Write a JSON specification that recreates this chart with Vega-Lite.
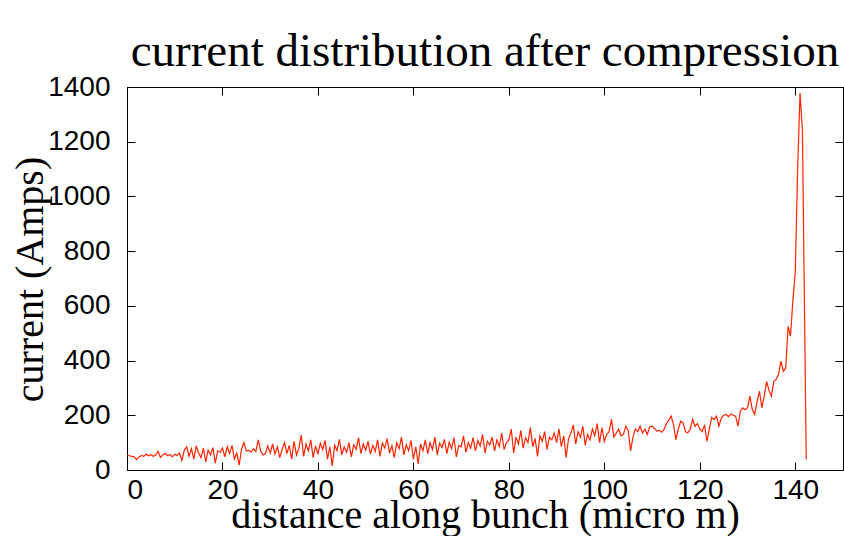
{
 "$schema": "https://vega.github.io/schema/vega-lite/v6.json",
 "width": 716,
 "height": 383,
 "autosize": "none",
 "padding": {"left": 127, "top": 87, "right": 1, "bottom": 66},
 "background": "white",
 "title": {"text": "current distribution after compression", "font": "Liberation Serif", "fontSize": 47, "fontWeight": "normal", "color": "black", "anchor": "middle", "offset": -3},
 "config": {
  "view": {"stroke": "black", "strokeWidth": 1},
  "axis": {"grid": false, "domainColor": "black", "domainWidth": 1, "tickColor": "black", "tickWidth": 1, "tickSize": -8, "labelFont": "Liberation Sans", "labelFontSize": 28, "labelColor": "black", "titleFont": "Liberation Serif", "titleFontSize": 40, "titleFontWeight": "normal", "titleColor": "black", "format": "d"}
 },
 "data": {"values": [
{"d":0,"c":55},{"d":0.5,"c":52},{"d":1,"c":50},{"d":1.5,"c":48},{"d":2,"c":38},{"d":2.5,"c":47},{"d":3,"c":53},{"d":3.5,"c":50},{"d":4,"c":58},{"d":4.5,"c":52},{"d":5,"c":56},{"d":5.5,"c":50},{"d":6,"c":54},{"d":6.5,"c":68},{"d":7,"c":46},{"d":7.5,"c":55},{"d":8,"c":60},{"d":8.5,"c":52},{"d":9,"c":57},{"d":9.5,"c":48},
{"d":10,"c":58},{"d":10.5,"c":54},{"d":11,"c":62},{"d":11.5,"c":35},{"d":12,"c":72},{"d":12.5,"c":85},{"d":13,"c":50},{"d":13.5,"c":78},{"d":14,"c":40},{"d":14.5,"c":88},{"d":15,"c":62},{"d":15.5,"c":45},{"d":16,"c":80},{"d":16.5,"c":30},{"d":17,"c":72},{"d":17.5,"c":55},{"d":18,"c":82},{"d":18.5,"c":25},{"d":19,"c":70},{"d":19.5,"c":65},
{"d":20,"c":80},{"d":20.5,"c":48},{"d":21,"c":85},{"d":21.5,"c":60},{"d":22,"c":90},{"d":22.5,"c":40},{"d":23,"c":62},{"d":23.5,"c":18},{"d":24,"c":78},{"d":24.5,"c":100},{"d":25,"c":70},{"d":25.5,"c":72},{"d":26,"c":65},{"d":26.5,"c":78},{"d":27,"c":68},{"d":27.5,"c":110},{"d":28,"c":70},{"d":28.5,"c":55},{"d":29,"c":60},{"d":29.5,"c":88},
{"d":30,"c":62},{"d":30.5,"c":95},{"d":31,"c":58},{"d":31.5,"c":85},{"d":32,"c":45},{"d":32.5,"c":75},{"d":33,"c":100},{"d":33.5,"c":60},{"d":34,"c":90},{"d":34.5,"c":40},{"d":35,"c":105},{"d":35.5,"c":55},{"d":36,"c":78},{"d":36.5,"c":128},{"d":37,"c":50},{"d":37.5,"c":95},{"d":38,"c":70},{"d":38.5,"c":110},{"d":39,"c":45},{"d":39.5,"c":88},
{"d":40,"c":60},{"d":40.5,"c":98},{"d":41,"c":75},{"d":41.5,"c":108},{"d":42,"c":40},{"d":42.5,"c":85},{"d":43,"c":15},{"d":43.5,"c":90},{"d":44,"c":70},{"d":44.5,"c":112},{"d":45,"c":55},{"d":45.5,"c":85},{"d":46,"c":65},{"d":46.5,"c":100},{"d":47,"c":48},{"d":47.5,"c":92},{"d":48,"c":75},{"d":48.5,"c":118},{"d":49,"c":60},{"d":49.5,"c":95},
{"d":50,"c":72},{"d":50.5,"c":105},{"d":51,"c":58},{"d":51.5,"c":90},{"d":52,"c":68},{"d":52.5,"c":110},{"d":53,"c":50},{"d":53.5,"c":98},{"d":54,"c":80},{"d":54.5,"c":115},{"d":55,"c":62},{"d":55.5,"c":88},{"d":56,"c":45},{"d":56.5,"c":100},{"d":57,"c":78},{"d":57.5,"c":120},{"d":58,"c":55},{"d":58.5,"c":92},{"d":59,"c":70},{"d":59.5,"c":108},
{"d":60,"c":40},{"d":60.5,"c":85},{"d":61,"c":22},{"d":61.5,"c":95},{"d":62,"c":70},{"d":62.5,"c":110},{"d":63,"c":60},{"d":63.5,"c":100},{"d":64,"c":75},{"d":64.5,"c":120},{"d":65,"c":55},{"d":65.5,"c":98},{"d":66,"c":82},{"d":66.5,"c":112},{"d":67,"c":60},{"d":67.5,"c":102},{"d":68,"c":78},{"d":68.5,"c":118},{"d":69,"c":48},{"d":69.5,"c":90},
{"d":70,"c":85},{"d":70.5,"c":125},{"d":71,"c":65},{"d":71.5,"c":100},{"d":72,"c":80},{"d":72.5,"c":118},{"d":73,"c":70},{"d":73.5,"c":108},{"d":74,"c":88},{"d":74.5,"c":130},{"d":75,"c":62},{"d":75.5,"c":105},{"d":76,"c":92},{"d":76.5,"c":120},{"d":77,"c":70},{"d":77.5,"c":110},{"d":78,"c":85},{"d":78.5,"c":135},{"d":79,"c":75},{"d":79.5,"c":100},
{"d":80,"c":110},{"d":80.5,"c":150},{"d":81,"c":62},{"d":81.5,"c":120},{"d":82,"c":95},{"d":82.5,"c":145},{"d":83,"c":80},{"d":83.5,"c":118},{"d":84,"c":100},{"d":84.5,"c":155},{"d":85,"c":85},{"d":85.5,"c":115},{"d":86,"c":50},{"d":86.5,"c":125},{"d":87,"c":105},{"d":87.5,"c":140},{"d":88,"c":75},{"d":88.5,"c":120},{"d":89,"c":110},{"d":89.5,"c":135},
{"d":90,"c":100},{"d":90.5,"c":150},{"d":91,"c":85},{"d":91.5,"c":125},{"d":92,"c":45},{"d":92.5,"c":115},{"d":93,"c":135},{"d":93.5,"c":165},{"d":94,"c":95},{"d":94.5,"c":140},{"d":95,"c":120},{"d":95.5,"c":160},{"d":96,"c":90},{"d":96.5,"c":130},{"d":97,"c":110},{"d":97.5,"c":150},{"d":98,"c":125},{"d":98.5,"c":170},{"d":99,"c":100},{"d":99.5,"c":155},
{"d":100,"c":105},{"d":100.5,"c":130},{"d":101,"c":140},{"d":101.5,"c":185},{"d":102,"c":120},{"d":102.5,"c":135},{"d":103,"c":150},{"d":103.5,"c":125},{"d":104,"c":130},{"d":104.5,"c":160},{"d":105,"c":145},{"d":105.5,"c":70},{"d":106,"c":120},{"d":106.5,"c":150},{"d":107,"c":140},{"d":107.5,"c":160},{"d":108,"c":135},{"d":108.5,"c":150},{"d":109,"c":130},{"d":109.5,"c":158},
{"d":110,"c":160},{"d":110.5,"c":152},{"d":111,"c":142},{"d":111.5,"c":145},{"d":112,"c":138},{"d":112.5,"c":148},{"d":113,"c":170},{"d":113.5,"c":182},{"d":114,"c":197},{"d":114.5,"c":165},{"d":115,"c":111},{"d":115.5,"c":150},{"d":116,"c":178},{"d":116.5,"c":172},{"d":117,"c":140},{"d":117.5,"c":136},{"d":118,"c":150},{"d":118.5,"c":185},{"d":119,"c":160},{"d":119.5,"c":170},
{"d":120,"c":150},{"d":120.5,"c":140},{"d":121,"c":165},{"d":121.5,"c":105},{"d":122,"c":150},{"d":122.5,"c":192},{"d":123,"c":185},{"d":123.5,"c":197},{"d":124,"c":160},{"d":124.5,"c":190},{"d":125,"c":200},{"d":125.5,"c":203},{"d":126,"c":195},{"d":126.5,"c":205},{"d":127,"c":200},{"d":127.5,"c":197},{"d":128,"c":160},{"d":128.5,"c":215},{"d":129,"c":227},{"d":129.5,"c":220},
{"d":130,"c":228},{"d":130.5,"c":270},{"d":131,"c":220},{"d":131.5,"c":203},{"d":132,"c":250},{"d":132.5,"c":288},{"d":133,"c":227},{"d":133.5,"c":270},{"d":134,"c":324},{"d":134.5,"c":290},{"d":135,"c":270},{"d":135.5,"c":324},{"d":136,"c":331},{"d":136.5,"c":350},{"d":137,"c":398},{"d":137.5,"c":361},{"d":138,"c":373},{"d":138.5,"c":525},{"d":139,"c":489},{"d":139.5,"c":620},
{"d":140,"c":722},{"d":140.5,"c":1100},{"d":141,"c":1378},{"d":141.5,"c":1240},{"d":142.3,"c":38}
 ]},
 "layer": [
  {
   "mark": {"type": "line", "color": "#ff2200", "strokeWidth": 1.2},
   "encoding": {
    "x": {"field": "d", "type": "quantitative", "scale": {"domain": [0, 150], "nice": false, "zero": false},
          "axis": {"values": [0, 20, 40, 60, 80, 100, 120, 140], "title": "distance along bunch (micro m)", "labelPadding": 14, "titleY": 57, "titleBaseline": "alphabetic"}},
    "y": {"field": "c", "type": "quantitative", "scale": {"domain": [0, 1400], "nice": false},
          "axis": {"values": [0, 200, 400, 600, 800, 1000, 1200, 1400], "title": "current (Amps)", "labelPadding": 25, "titleX": -85, "titleY": 192, "titleAngle": 270, "titleBaseline": "alphabetic", "titleAlign": "center"}}
   }
  },
  {
   "mark": {"type": "line", "opacity": 0},
   "encoding": {
    "x": {"field": "d", "type": "quantitative", "axis": {"orient": "top", "values": [0, 20, 40, 60, 80, 100, 120, 140], "labels": false, "title": null}},
    "y": {"field": "c", "type": "quantitative", "axis": {"orient": "right", "values": [0, 200, 400, 600, 800, 1000, 1200, 1400], "labels": false, "title": null}}
   }
  }
 ],
 "resolve": {"axis": {"x": "independent", "y": "independent"}}
}
